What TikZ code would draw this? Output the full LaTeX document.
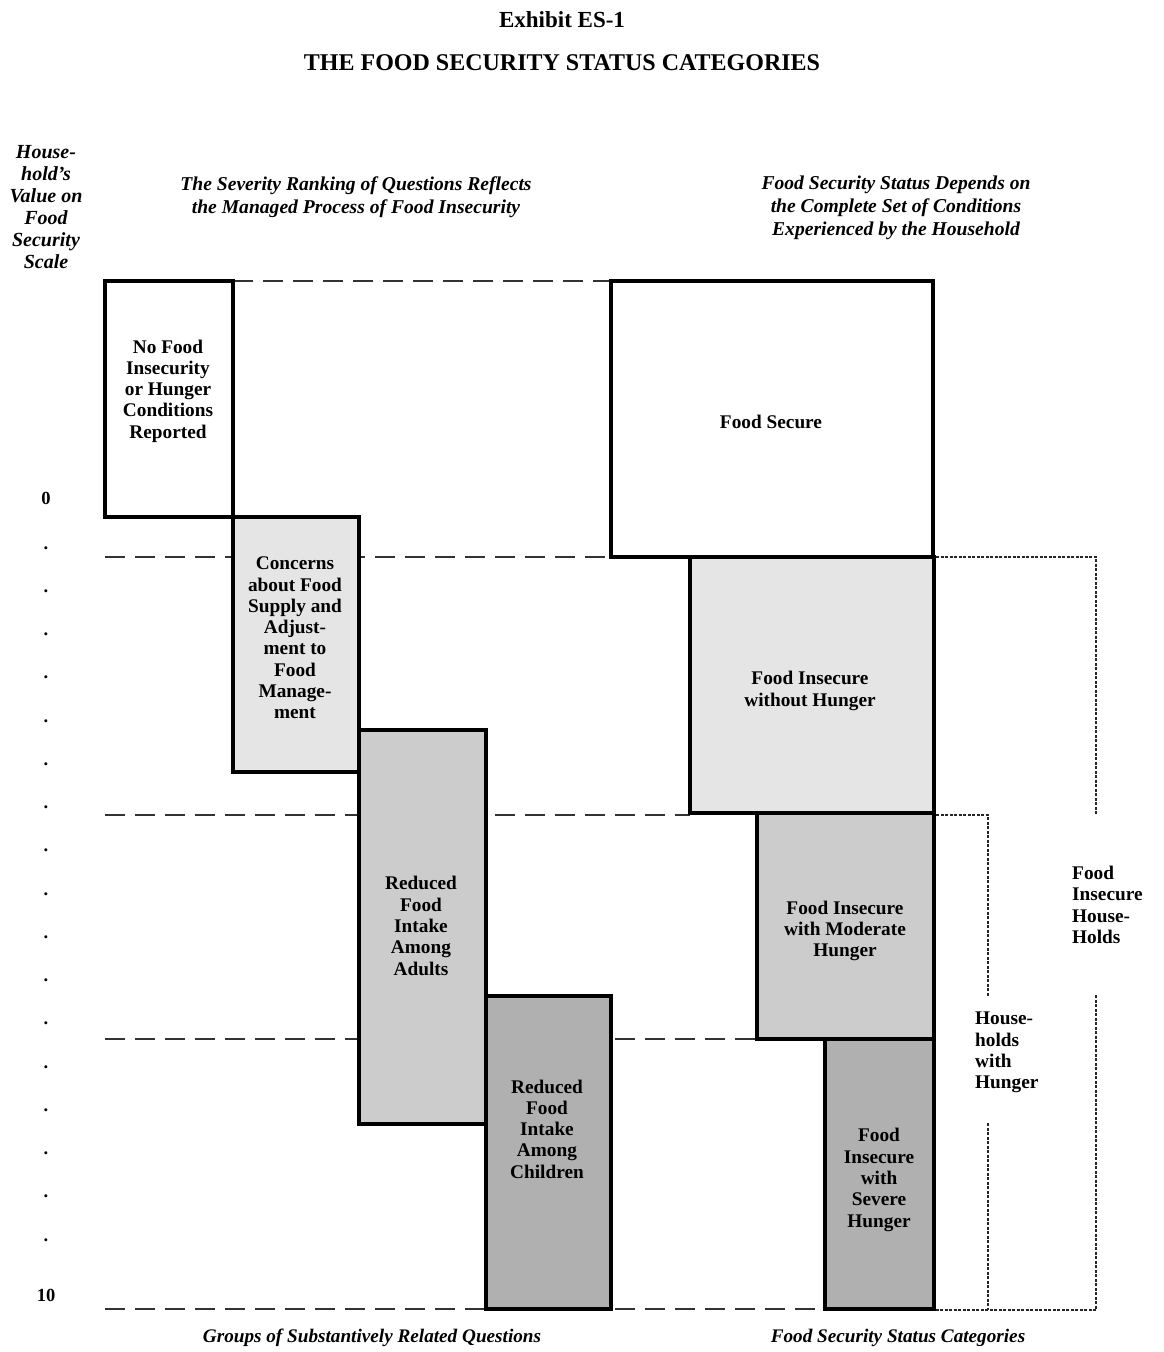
\documentclass[tikz,border=0pt]{standalone}
\usepackage{fontspec}
\setmainfont{Liberation Serif}
\begin{document}
\begin{tikzpicture}[x=1pt,y=-1pt,
  box/.style={draw=black,line width=3.2pt,line join=miter},
  lbl/.style={align=center,font=\bfseries\fontsize{19.3}{21.3}\selectfont,inner sep=0pt},
  llbl/.style={align=left,font=\bfseries\fontsize{19.3}{21.3}\selectfont,inner sep=0pt,anchor=north west},
  hdr/.style={align=center,font=\bfseries\itshape\fontsize{19.6}{22.8}\selectfont,inner sep=0pt},
  level/.style={draw=black!80,line width=1.8pt,dash pattern=on 20pt off 10pt},
  brk/.style={draw=black!85,line width=1.3pt,dash pattern=on 3pt off 1.5pt},
  tick/.style={font=\bfseries\fontsize{18.5}{20}\selectfont,inner sep=0pt}
]
\useasboundingbox (0,0) rectangle (1163,1352);
\definecolor{gA}{gray}{0.9}
\definecolor{gB}{gray}{0.8}
\definecolor{gC}{gray}{0.69}

% titles
\node[font=\bfseries\fontsize{23}{26}\selectfont,inner sep=0pt] (t1) at (562,20) {Exhibit ES-1};
\node[font=\bfseries\fontsize{24}{26}\selectfont,inner sep=0pt] (t2) at (562,63) {THE FOOD SECURITY STATUS CATEGORIES};

% headers
\node[hdr,font=\bfseries\itshape\fontsize{20}{22}\selectfont] (hL) at (46,207) {House-\\hold's\\Value on\\Food\\Security\\Scale};
\node[hdr] (hM) at (356,197) {The Severity Ranking of Questions Reflects\\the Managed Process of Food Insecurity};
\node[hdr] (hR) at (896,208) {Food Security Status Depends on\\the Complete Set of Conditions\\Experienced by the Household};

% level lines
\coordinate (l0a) at (233,281); \coordinate (l0b) at (611,281);
\coordinate (l1a) at (105,557); \coordinate (l1b) at (611,557);
\coordinate (l2a) at (105,815); \coordinate (l2b) at (690,815);
\coordinate (l3a) at (105,1039); \coordinate (l3b) at (825,1039);
\coordinate (l4a) at (105,1309); \coordinate (l4b) at (825,1309);
\draw[level] (l0a) -- (l0b);
\draw[level] (l1a) -- (l1b);
\draw[level] (l2a) -- (l2b);
\draw[level] (l3a) -- (l3b);
\draw[level] (l4a) -- (l4b);

% left boxes
\draw[box,fill=white] (105,281) rectangle (233,517);
\draw[box,fill=gA] (233,517) rectangle (359,772);
\draw[box,fill=gB] (359,730) rectangle (486,1124);
\draw[box,fill=gC] (486,996) rectangle (611,1309);
\node[lbl] (q1) at (168,391) {No Food\\Insecurity\\or Hunger\\Conditions\\Reported};
\node[lbl] (q2) at (295,638) {Concerns\\about Food\\Supply and\\Adjust-\\ment to\\Food\\Manage-\\ment};
\node[lbl] (q3) at (421,926) {Reduced\\Food\\Intake\\Among\\Adults};
\node[lbl] (q4) at (547,1129) {Reduced\\Food\\Intake\\Among\\Children};

% right boxes
\draw[box,fill=white] (611,281) rectangle (933,557);
\draw[box,fill=gA] (690,557) rectangle (934,813);
\draw[box,fill=gB] (757,813) rectangle (934,1039);
\draw[box,fill=gC] (825,1039) rectangle (934,1309);
\node[lbl] (s1) at (771,422) {Food Secure};
\node[lbl] (s2) at (810,691) {Food Insecure\\without Hunger};
\node[lbl] (s3) at (845,931) {Food Insecure\\with Moderate\\Hunger};
\node[lbl] (s4) at (879,1180) {Food\\Insecure\\with\\Severe\\Hunger};

% brackets
\coordinate (o1) at (936,557); \coordinate (o2) at (1096,557); \coordinate (o3) at (1096,814);
\coordinate (o4) at (1096,995); \coordinate (o5) at (1096,1310); \coordinate (o6) at (936,1310);
\draw[brk] (o1) -- (o2) -- (o3);
\draw[brk] (o4) -- (o5) -- (o6);
\coordinate (i1) at (936,815); \coordinate (i2) at (988,815); \coordinate (i3) at (988,996);
\coordinate (i4) at (988,1123); \coordinate (i5) at (988,1310);
\draw[brk] (i1) -- (i2) -- (i3);
\draw[brk] (i4) -- (i5);
\node[llbl] (bo) at (1072,866) {Food\\Insecure\\House-\\Holds};
\node[llbl] (bi) at (975,1012) {House-\\holds\\with\\Hunger};

% scale
\node[tick] (z0) at (46,498) {0};
\node[tick] (z10) at (46,1295) {10};
\foreach \k in {0,...,16}{
  \node[tick,anchor=base] (d\k) at (46,{549+\k*43.25}) {.};
}

% bottom labels
\node[hdr,font=\bfseries\itshape\fontsize{19.2}{22}\selectfont] (bL) at (372,1338) {Groups of Substantively Related Questions};
\node[hdr,font=\bfseries\itshape\fontsize{19.2}{22}\selectfont] (bR) at (898,1338) {Food Security Status Categories};
\end{tikzpicture}
\end{document}
